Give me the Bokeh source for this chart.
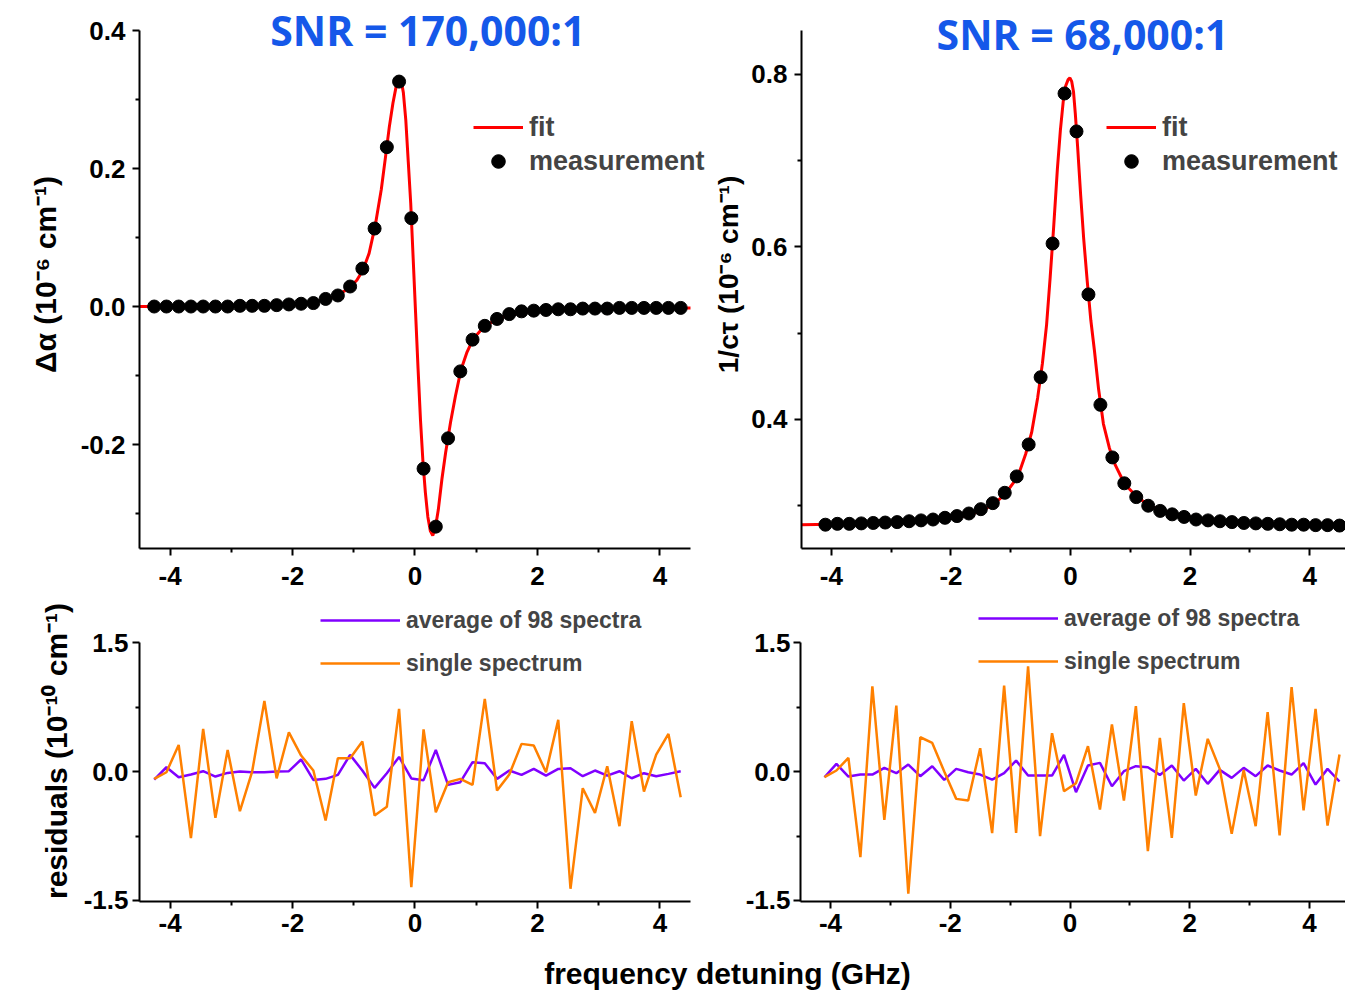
from bokeh.plotting import figure
from bokeh.models import Range1d, FixedTicker, Label, NumeralTickFormatter
from bokeh.layouts import column, row
from bokeh.embed import file_html
from bokeh.resources import INLINE

# ---------------- data ----------------
# left column: differential absorption (dispersion-like)
alpha_x = [-4.26, -4.06, -3.86, -3.66, -3.46, -3.26, -3.06, -2.86, -2.66, -2.46,
           -2.26, -2.06, -1.86, -1.66, -1.46, -1.26, -1.06, -0.86, -0.66, -0.46,
           -0.26, -0.06, 0.14, 0.34, 0.54, 0.74, 0.94, 1.14, 1.34, 1.54,
           1.74, 1.94, 2.14, 2.34, 2.54, 2.74, 2.94, 3.14, 3.34, 3.54,
           3.74, 3.94, 4.14, 4.34]
alpha_meas = [0.0, 0.0, 0.0, 0.0, 0.0, 0.0, 0.0, 0.001, 0.001, 0.001,
              0.002, 0.003, 0.004, 0.005, 0.011, 0.016, 0.029, 0.055, 0.113, 0.231,
              0.326, 0.128, -0.235, -0.319, -0.191, -0.094, -0.048, -0.028, -0.018, -0.011,
              -0.007, -0.006, -0.005, -0.004, -0.004, -0.003, -0.003, -0.003, -0.002, -0.002,
              -0.002, -0.002, -0.002, -0.002]
alpha_fit_x = [-4.5, -3.5, -3.0, -2.5, -2.0, -1.7, -1.5, -1.3, -1.1, -0.95,
               -0.85, -0.75, -0.65, -0.55, -0.48, -0.42, -0.36, -0.31, -0.27, -0.23,
               -0.19, -0.15, -0.11, -0.07, -0.03, 0.01, 0.05, 0.09, 0.13, 0.17,
               0.21, 0.25, 0.29, 0.33, 0.38, 0.44, 0.5, 0.58, 0.66, 0.75,
               0.85, 0.95, 1.1, 1.3, 1.5, 1.8, 2.2, 2.8, 3.5, 4.5]
alpha_fit_y = [0.0, 0.0005, 0.001, 0.002, 0.004, 0.006, 0.009, 0.015, 0.025, 0.038,
               0.053, 0.077, 0.117, 0.17, 0.218, 0.26, 0.295, 0.318, 0.328, 0.33,
               0.31, 0.27, 0.21, 0.15, 0.07, -0.01, -0.09, -0.165, -0.225, -0.27,
               -0.305, -0.325, -0.332, -0.322, -0.295, -0.25, -0.212, -0.168, -0.13, -0.092,
               -0.066, -0.047, -0.032, -0.02, -0.013, -0.008, -0.006, -0.004, -0.003, -0.002]
alpha_res_avg = [-0.093, 0.05, -0.066, -0.035, 0.004, -0.058, -0.016, 0.0, -0.008, -0.008,
                 0.0, 0.004, 0.14, -0.097, -0.085, -0.039, 0.194, 0.012, -0.19, -0.019,
                 0.17, -0.08, -0.1, 0.252, -0.155, -0.124, 0.109, 0.097, -0.085, 0.012,
                 -0.039, 0.031, -0.047, 0.031, 0.039, -0.054, 0.012, -0.047, 0.004, -0.078,
                 -0.019, -0.054, -0.027, 0.004]
alpha_res_single = [-0.085, -0.008, 0.31, -0.775, 0.496, -0.539, 0.252, -0.461, 0.0, 0.82,
                    -0.08, 0.455, 0.186, 0.012, -0.57, 0.155, 0.155, 0.349, -0.512, -0.41,
                    0.73, -1.345, 0.49, -0.473, -0.124, -0.085, -0.155, 0.845, -0.221, -0.035,
                    0.322, 0.302, -0.008, 0.601, -1.364, -0.194, -0.481, 0.062, -0.636, 0.585,
                    -0.233, 0.198, 0.438, -0.298]

# right column: cavity loss 1/(c tau) (absorption-like)
loss_x = [-4.1, -3.9, -3.7, -3.5, -3.3, -3.1, -2.9, -2.7, -2.5, -2.3,
          -2.1, -1.9, -1.7, -1.5, -1.3, -1.1, -0.9, -0.7, -0.5, -0.3,
          -0.1, 0.1, 0.3, 0.5, 0.7, 0.9, 1.1, 1.3, 1.5, 1.7,
          1.9, 2.1, 2.3, 2.5, 2.7, 2.9, 3.1, 3.3, 3.5, 3.7,
          3.9, 4.1, 4.3, 4.5]
loss_meas = [0.278, 0.279, 0.279, 0.2795, 0.280, 0.2805, 0.281, 0.282, 0.283, 0.284,
             0.286, 0.288, 0.291, 0.296, 0.303, 0.315, 0.334, 0.371, 0.449, 0.604,
             0.778, 0.734, 0.545, 0.417, 0.356, 0.326, 0.310, 0.300, 0.294, 0.290,
             0.287, 0.284, 0.283, 0.282, 0.281, 0.280, 0.2795, 0.279, 0.2785, 0.278,
             0.278, 0.2775, 0.2775, 0.277]
loss_fit_x = [-4.5, -4.0, -3.5, -3.0, -2.5, -2.0, -1.7, -1.5, -1.3, -1.1,
              -0.95, -0.85, -0.75, -0.65, -0.55, -0.47, -0.4, -0.34, -0.28, -0.22,
              -0.17, -0.12, -0.08, -0.04, -0.01, 0.02, 0.05, 0.08, 0.12, 0.17,
              0.22, 0.28, 0.34, 0.4, 0.47, 0.55, 0.65, 0.75, 0.85, 0.95,
              1.1, 1.3, 1.5, 1.8, 2.2, 2.7, 3.3, 4.0, 4.6]
loss_fit_y = [0.278, 0.2785, 0.2795, 0.2805, 0.2825, 0.2855, 0.289, 0.294, 0.301, 0.313,
              0.327, 0.34, 0.36, 0.385, 0.425, 0.465, 0.51, 0.565, 0.625, 0.69,
              0.735, 0.77, 0.787, 0.794, 0.796, 0.792, 0.78, 0.755, 0.715, 0.66,
              0.61, 0.56, 0.515, 0.48, 0.435, 0.395, 0.367, 0.347, 0.333, 0.322,
              0.311, 0.301, 0.295, 0.289, 0.2845, 0.2815, 0.2795, 0.278, 0.2775]
loss_res_avg = [-0.066, 0.089, -0.058, -0.035, -0.035, 0.043, -0.019, 0.081, -0.054, 0.062,
                -0.097, 0.031, -0.008, -0.035, -0.093, -0.019, 0.128, -0.047, -0.047, -0.047,
                0.194, -0.24, 0.07, 0.101, -0.171, 0.004, 0.062, 0.05, -0.039, 0.07,
                -0.105, 0.031, -0.143, 0.019, -0.074, 0.043, -0.054, 0.07, 0.012, -0.035,
                0.097, -0.151, 0.031, -0.116]
loss_res_single = [-0.066, 0.012, 0.159, -0.996, 0.992, -0.562, 0.767, -1.422, 0.399, 0.333,
                   0.0, -0.318, -0.337, 0.271, -0.717, 1.0, -0.713, 1.225, -0.752, 0.446,
                   -0.229, -0.136, 0.295, -0.442, 0.547, -0.337, 0.76, -0.926, 0.391, -0.771,
                   0.795, -0.279, 0.38, 0.031, -0.725, 0.019, -0.636, 0.69, -0.744, 0.981,
                   -0.453, 0.729, -0.628, 0.198]

x_major = [-4, -2, 0, 2, 4]
x_minor = [-3, -1, 1, 3]
titles = ["SNR = 170,000:1", "SNR = 68,000:1"]
ylabels = ["Δα (10⁻⁶ cm⁻¹)", "1/cτ (10⁻⁶ cm⁻¹)", "residuals (10⁻¹⁰ cm⁻¹)"]
xlabel = "frequency detuning (GHz)"

FONT = "Liberation Sans"
RED = "#ff0000"
PURPLE = "#8000ff"
ORANGE = "#ff8000"
BLUE = "#1558e9"


def base_fig(w, h, xr, yr, bl, br, bt, bb):
    p = figure(width=w, height=h, x_range=Range1d(*xr), y_range=Range1d(*yr),
               toolbar_location=None, output_backend="svg",
               min_border_left=bl, min_border_right=br, min_border_top=bt,
               min_border_bottom=bb)
    p.outline_line_color = None
    p.grid.visible = False
    p.background_fill_color = "white"
    p.border_fill_color = "white"
    for ax in p.axis:
        ax.axis_line_width = 2
        ax.axis_line_color = "black"
        ax.major_tick_line_width = 2
        ax.minor_tick_line_width = 2
        ax.major_tick_in = 0
        ax.major_tick_out = 7
        ax.minor_tick_in = 0
        ax.minor_tick_out = 4
        ax.major_label_text_font = FONT
        ax.major_label_text_font_style = "bold"
        ax.major_label_text_font_size = "26px"
        ax.major_label_text_color = "black"
        ax.axis_label_text_font = FONT
        ax.axis_label_text_font_style = "bold"
        ax.axis_label_text_font_size = "30px"
        ax.axis_label_text_color = "black"
    p.xaxis.ticker = FixedTicker(ticks=x_major, minor_ticks=x_minor)
    p.xaxis.formatter = NumeralTickFormatter(format="0")
    p.xaxis.bounds = (-4.5, 4.6)
    p.yaxis.formatter = NumeralTickFormatter(format="0.0")
    return p


def style_legend(p, loc, size, gw, gh, spacing):
    lg = p.legend[0]
    lg.location = loc
    lg.label_text_font = FONT
    lg.label_text_font_style = "bold"
    lg.label_text_font_size = size
    lg.glyph_width = gw
    lg.glyph_height = gh
    lg.label_height = gh
    lg.spacing = spacing
    lg.padding = 0
    lg.margin = 0
    lg.label_standoff = 6
    lg.border_line_alpha = 0
    lg.background_fill_alpha = 0


LEFT_W = 710
RIGHT_W = 1345 - LEFT_W
XR_LEFT = (-4.5, 4.5 + 20 / 61.2)

# ---------------- top-left: differential absorption ----------------
tl = base_fig(LEFT_W, 598, XR_LEFT, (-0.3507, 0.4435), 139, 0, 0, 50)
tl.xaxis.bounds = (-4.5, 4.5)
tl.yaxis.ticker = FixedTicker(ticks=[-0.2, 0.0, 0.2, 0.4], minor_ticks=[-0.3, -0.1, 0.1, 0.3])
tl.yaxis.bounds = (-0.3507, 0.4)
tl.yaxis.axis_label = ylabels[0]
tl.yaxis.axis_label_standoff = 16
tl.yaxis.major_label_standoff = 7
tl.xaxis.major_label_standoff = 11
tl.line(alpha_fit_x, alpha_fit_y, line_color=RED, line_width=3, legend_label="fit")
tl.scatter(alpha_x, alpha_meas, size=13, color="black", legend_label="measurement")
style_legend(tl, (334, 370), "27px", 50, 34, 0)
tl.add_layout(Label(x=0.21, y=0.401, text=titles[0], text_align="center",
                    text_baseline="alphabetic", text_font="Open Sans",
                    text_font_style="bold", text_font_size="41px", text_color=BLUE))

# ---------------- top-right: cavity loss ----------------
tr = base_fig(RIGHT_W, 598, (-4.5, 4.6), (0.2504, 0.8858), 90, 0, 0, 50)
tr.yaxis.ticker = FixedTicker(ticks=[0.4, 0.6, 0.8], minor_ticks=[0.3, 0.5, 0.7])
tr.yaxis.bounds = (0.2504, 0.851)
tr.yaxis.axis_label = ylabels[1]
tr.yaxis.axis_label_text_font_size = "28px"
tr.yaxis.axis_label_standoff = 4
tr.yaxis.major_label_standoff = 7
tr.xaxis.major_label_standoff = 11
tr.line(loss_fit_x, loss_fit_y, line_color=RED, line_width=3, legend_label="fit")
tr.scatter(loss_x, loss_meas, size=13, color="black", legend_label="measurement")
style_legend(tr, (305, 370), "27px", 50, 34, 0)
tr.add_layout(Label(x=0.2, y=0.847, text=titles[1], text_align="center",
                    text_baseline="alphabetic", text_font="Open Sans",
                    text_font_style="bold", text_font_size="41px", text_color=BLUE))

# ---------------- bottom-left: residuals ----------------
bl = base_fig(LEFT_W, 352, XR_LEFT, (-1.512, 1.99), 139, 0, 2, 49)
bl.xaxis.bounds = (-4.5, 4.5)
bl.yaxis.ticker = FixedTicker(ticks=[-1.5, 0.0, 1.5], minor_ticks=[-0.75, 0.75])
bl.yaxis.bounds = (-1.512, 1.5)
bl.yaxis.axis_label = ylabels[2]
bl.yaxis.axis_label_standoff = 8
bl.yaxis.major_label_standoff = 4
bl.xaxis.major_label_standoff = 5
bl.line(alpha_x, alpha_res_avg, line_color=PURPLE, line_width=2.5, legend_label="average of 98 spectra")
bl.line(alpha_x, alpha_res_single, line_color=ORANGE, line_width=2.5, legend_label="single spectrum")
style_legend(bl, (181, 220), "23px", 80, 36, 7)

# ---------------- bottom-right: residuals ----------------
br = base_fig(RIGHT_W, 352, (-4.5, 4.6), (-1.512, 1.99), 90, 0, 2, 49)
br.yaxis.ticker = FixedTicker(ticks=[-1.5, 0.0, 1.5], minor_ticks=[-0.75, 0.75])
br.yaxis.bounds = (-1.512, 1.5)
br.yaxis.major_label_standoff = 3
br.xaxis.major_label_standoff = 5
br.line(loss_x, loss_res_avg, line_color=PURPLE, line_width=2.5, legend_label="average of 98 spectra")
br.line(loss_x, loss_res_single, line_color=ORANGE, line_width=2.5, legend_label="single spectrum")
style_legend(br, (178, 222), "23px", 80, 36, 7)

# ---------------- shared x-axis label ----------------
xl = figure(width=1345, height=40, x_range=Range1d(0, 1345), y_range=Range1d(0, 40),
            toolbar_location=None, output_backend="svg", x_axis_type=None, y_axis_type=None,
            min_border=0)
xl.outline_line_color = None
xl.add_layout(Label(x=727, y=17, text=xlabel, text_align="center", text_baseline="middle",
                    text_font=FONT, text_font_style="bold", text_font_size="30px",
                    text_color="black"))

layout = column(row(tl, tr), row(bl, br), xl)
open("out.html", "w").write(file_html(layout, INLINE))
